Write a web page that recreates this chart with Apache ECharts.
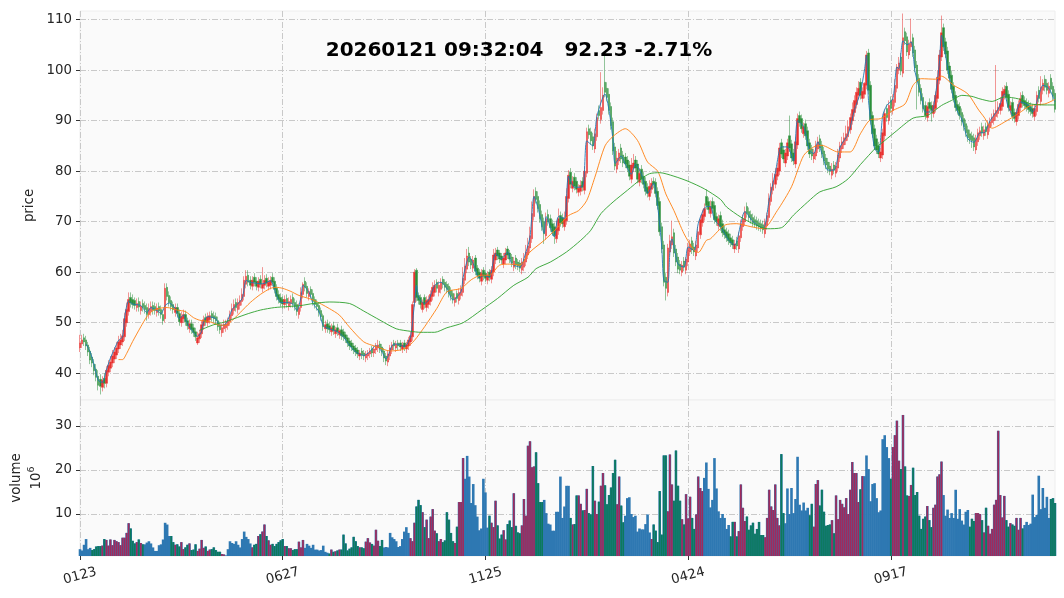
<!DOCTYPE html>
<html>
<head>
<meta charset="utf-8">
<script src="https://cdn.jsdelivr.net/npm/echarts@6/dist/echarts.min.js"></script>
<style>html,body{margin:0;padding:0;background:#fff}#main{width:1064px;height:598px}</style>
</head>
<body>
<div id="main"></div>
<script>
var titleText = '20260121 09:32:04   92.23 -2.71%';
var tickLabels = ['0123', '0627', '1125', '0424', '0917'];

var open = [
45.0,45.8,47.0,46.6,45.6,44.4,43.2,41.8,40.8,39.4,
38.8,37.2,39.0,38.0,40.2,41.0,42.0,42.8,43.6,44.8,
45.6,46.2,47.2,50.0,52.2,55.0,54.6,54.4,53.0,54.2,
52.4,53.8,53.4,53.0,51.6,52.2,53.4,53.2,52.0,53.2,
52.6,51.6,50.8,57.0,55.4,54.4,53.6,52.0,53.0,51.8,
50.0,50.8,51.6,50.4,48.8,49.8,49.0,48.2,46.0,46.8,
47.8,49.4,51.0,50.0,50.6,51.8,51.4,51.2,50.4,49.6,
48.0,48.8,49.0,49.4,50.2,51.4,52.4,54.0,52.6,53.4,
54.2,55.2,57.6,59.4,58.4,57.2,59.0,58.2,57.0,58.6,
56.8,57.4,58.8,57.2,57.4,59.0,58.2,56.8,55.6,55.0,
54.6,53.6,54.8,53.2,53.8,55.0,54.0,53.6,51.6,53.0,
55.6,58.2,57.2,55.2,56.6,55.8,54.6,53.8,53.4,52.4,
51.4,48.8,49.8,49.4,48.2,49.4,47.8,49.0,47.6,48.6,
48.2,47.6,47.0,46.4,46.0,45.4,45.0,44.6,43.4,44.4,
44.0,43.0,43.4,43.8,44.8,44.0,44.6,45.0,45.8,45.2,
44.4,43.4,42.2,43.4,44.6,46.0,45.0,46.0,46.0,44.8,
46.0,44.8,45.4,46.2,47.2,54.0,60.4,55.4,55.0,52.6,
55.0,53.0,53.6,54.2,55.2,56.0,58.0,56.0,56.6,58.6,
58.0,57.6,57.2,56.4,55.8,54.0,55.8,54.4,55.4,56.0,
58.4,60.6,63.8,62.6,60.8,62.8,60.8,60.0,58.2,60.4,
59.8,58.4,60.0,58.6,60.0,62.4,64.4,63.8,63.2,61.6,
62.4,64.6,63.8,63.0,61.0,62.8,62.0,61.8,60.4,61.0,
62.0,63.4,64.8,66.6,71.0,76.0,75.0,73.4,71.4,70.0,
67.2,71.4,70.6,69.6,69.0,66.6,68.2,71.2,70.8,69.0,
70.2,74.6,79.8,76.6,78.8,78.0,75.8,76.0,78.0,76.2,
79.6,88.4,87.8,86.8,84.4,86.8,92.0,90.2,92.0,97.6,
96.4,95.2,92.8,89.8,84.8,80.4,82.0,84.6,83.2,82.8,
82.2,81.2,78.4,80.6,82.2,81.4,77.8,80.4,79.0,78.0,
76.8,75.0,76.4,78.0,77.8,76.0,74.0,69.0,65.4,59.0,
56.0,64.0,65.4,67.8,64.6,63.0,61.6,60.0,62.2,60.4,
62.0,64.0,66.2,65.0,63.2,64.8,67.4,69.8,71.0,75.0,
74.0,71.6,74.0,73.2,71.0,69.2,71.2,69.6,68.4,68.0,
67.6,66.8,66.4,64.6,66.2,64.6,66.8,69.0,70.0,73.0,
72.0,71.4,70.8,70.4,70.2,69.8,69.6,69.4,67.6,69.2,
70.8,74.0,76.2,77.4,79.0,80.0,85.6,84.2,81.6,83.0,
87.0,85.4,83.6,81.4,85.2,91.0,90.4,87.4,89.4,88.0,
85.6,84.4,82.4,83.0,84.4,86.4,85.2,84.0,82.6,81.8,
81.0,79.2,81.2,79.6,80.6,82.6,84.4,85.2,86.0,86.8,
88.2,90.0,91.6,93.2,95.0,97.6,94.4,95.2,97.0,103.4,
97.0,91.0,88.4,86.4,85.0,82.6,83.2,87.0,92.4,90.0,
94.0,92.0,93.6,96.4,100.0,102.6,99.4,107.6,106.6,103.0,
104.6,106.4,104.0,101.0,98.4,96.4,94.6,93.0,90.6,93.6,
93.0,91.4,92.4,94.4,98.0,102.6,108.4,105.6,103.8,100.8,
99.0,96.8,95.0,93.2,92.8,91.6,90.4,89.4,88.2,87.4,
87.0,86.6,84.2,85.8,87.0,88.8,87.0,88.8,87.2,88.6,
89.6,90.0,90.8,91.4,92.0,92.8,95.0,96.8,95.2,92.0,
93.6,91.6,89.8,91.0,92.6,95.0,94.0,93.6,93.2,92.8,
92.4,90.8,91.8,96.0,93.8,96.0,98.2,97.4,95.4,98.4,
96.8,95.4];

var close = [
46.0,46.6,46.2,45.4,44.2,42.6,42.0,40.5,39.2,37.6,
37.4,38.6,38.0,40.6,41.6,42.2,43.4,44.2,45.0,46.2,
46.6,47.4,50.8,52.6,54.6,53.9,53.6,53.4,53.8,53.1,
53.3,53.0,52.6,51.6,52.8,53.2,52.5,52.4,52.9,52.3,
51.6,50.4,56.8,55.2,54.0,53.2,52.6,53.0,51.8,50.2,
51.2,51.6,50.2,49.4,49.8,48.6,48.0,47.2,47.0,47.8,
49.6,50.6,50.2,51.2,51.4,51.0,50.8,50.4,49.2,48.6,
49.0,49.6,49.8,50.4,51.6,52.8,53.6,53.0,54.0,54.4,
55.6,58.4,59.2,58.0,57.4,58.4,58.0,57.2,58.2,57.6,
57.6,58.4,57.8,58.0,58.4,58.0,56.6,55.2,54.6,54.0,
53.7,54.6,53.8,54.2,54.6,53.8,53.2,52.2,53.0,56.0,
57.6,57.0,55.8,56.2,55.6,54.2,53.6,53.2,52.0,51.2,
49.2,49.6,48.8,48.6,49.0,48.4,48.6,48.2,48.4,47.4,
47.2,46.8,46.0,45.4,45.2,44.6,44.2,43.8,44.0,43.6,
43.4,43.8,44.0,44.4,44.0,44.8,45.4,45.6,44.8,44.2,
43.0,42.4,43.8,45.0,45.6,45.4,45.8,45.4,45.2,45.6,
45.2,45.6,46.6,47.4,53.6,60.0,55.0,54.4,53.6,54.0,
53.6,54.4,54.6,55.6,57.0,57.4,56.8,57.4,58.0,57.6,
57.0,56.6,55.8,55.2,54.6,55.0,54.8,56.0,56.6,58.8,
61.2,63.2,62.0,61.4,62.4,60.2,59.4,58.8,59.8,59.2,
58.8,59.4,59.0,60.4,63.4,63.8,63.2,62.6,62.4,62.8,
63.8,63.4,62.6,61.8,62.2,61.4,61.2,60.8,62.0,62.6,
64.0,65.2,67.2,71.6,75.0,74.4,72.6,70.6,69.0,67.6,
70.6,70.0,68.8,68.0,67.2,68.8,70.6,69.8,69.6,70.6,
75.0,79.2,77.4,78.0,77.0,76.4,76.6,77.2,76.8,80.0,
87.8,87.2,86.0,85.0,87.4,90.6,91.0,92.6,95.0,95.6,
94.6,92.0,89.0,84.0,81.0,82.6,83.6,82.4,81.6,81.4,
80.6,79.0,81.2,81.6,80.6,78.4,79.6,78.4,77.4,76.0,
75.6,77.0,77.6,77.4,75.6,73.2,68.0,64.6,58.0,56.8,
64.8,66.2,67.0,63.8,62.0,60.6,60.4,61.4,61.0,62.6,
64.8,65.6,64.4,64.0,65.4,68.0,70.4,71.4,72.6,73.2,
72.4,73.0,72.6,70.4,70.0,70.6,69.0,67.8,67.4,66.8,
66.2,65.8,65.4,65.6,65.2,67.2,69.6,70.6,72.0,71.6,
70.8,70.4,69.8,69.6,69.2,69.0,68.8,68.4,69.8,71.2,
74.6,76.8,78.0,79.4,80.6,84.6,83.4,82.4,83.6,85.6,
84.6,82.6,82.0,85.8,90.4,89.6,88.4,88.8,87.0,85.0,
83.4,83.0,83.6,85.2,85.8,84.6,83.4,82.0,81.2,80.4,
80.0,80.4,80.2,81.0,83.2,85.0,85.8,86.6,87.4,88.8,
90.6,92.2,94.0,95.6,96.4,95.0,95.8,97.4,103.0,96.0,
90.0,87.4,85.0,84.2,83.4,83.8,87.6,91.4,90.6,93.0,
92.4,94.2,97.0,100.6,101.4,99.8,106.4,105.8,103.6,105.2,
105.6,103.4,100.4,97.8,95.6,94.0,92.4,91.0,92.8,92.4,
92.0,93.0,95.0,98.6,103.0,107.4,104.6,103.2,100.0,98.4,
96.2,94.4,92.6,92.0,91.0,89.8,88.8,87.6,86.6,86.2,
86.0,84.8,86.4,87.6,88.0,87.6,88.2,87.8,89.2,89.8,
90.6,91.4,92.0,92.6,93.4,95.8,96.2,94.6,92.6,93.0,
90.8,90.4,91.6,93.2,94.4,93.4,93.0,92.6,92.2,91.8,
91.4,92.4,95.0,94.4,96.6,97.4,96.6,96.0,96.8,96.2,
94.8,92.23];

var high = [
47.6,47.6,47.8,47.4,46.2,45.2,44.0,42.8,41.8,40.6,
39.8,39.4,40.0,41.4,42.6,43.4,44.6,45.2,46.2,47.4,
47.8,48.6,52.0,54.0,56.0,56.0,55.6,55.0,54.8,55.0,
54.2,54.6,54.2,53.8,53.8,54.2,54.2,54.0,53.8,54.0,
53.4,52.6,57.8,57.8,56.2,55.2,54.2,53.8,53.8,52.6,
52.2,52.6,52.4,51.0,50.6,50.6,49.8,49.0,48.2,48.6,
50.4,51.4,51.8,52.0,52.2,52.4,52.2,52.0,51.2,50.2,
49.8,50.6,50.6,51.0,52.4,53.8,54.6,54.8,54.8,55.4,
56.8,59.2,60.4,60.4,59.2,59.2,59.8,59.0,59.0,59.4,
61.0,59.4,59.6,59.0,59.2,59.8,59.0,57.6,56.4,55.8,
55.4,55.4,55.6,55.0,55.4,55.8,54.8,54.4,53.8,57.0,
58.0,59.0,58.0,56.8,57.2,56.6,55.2,54.6,54.0,53.0,
51.8,50.4,50.6,50.2,49.8,50.2,49.2,49.8,48.8,49.4,
48.8,48.2,47.6,47.0,46.6,46.0,45.6,45.2,44.6,45.0,
44.6,44.4,44.6,45.0,45.4,45.4,46.0,46.6,46.4,45.8,
45.0,44.0,44.4,45.6,46.2,46.6,46.4,46.6,46.6,46.2,
46.6,46.2,47.2,48.2,54.2,60.6,60.8,56.0,55.6,54.6,
55.6,55.2,55.4,56.4,58.0,58.4,58.6,58.2,58.8,59.2,
58.6,58.2,57.8,57.0,56.4,55.8,56.4,56.8,57.4,61.0,
62.8,64.6,65.0,63.2,63.2,63.4,61.4,60.6,60.6,61.0,
60.4,60.2,60.6,61.2,64.6,64.8,65.0,64.4,63.8,63.8,
64.8,65.2,64.4,63.6,63.0,63.4,62.6,62.4,62.8,63.8,
65.4,66.8,69.0,74.0,76.4,76.8,76.0,74.2,72.2,70.8,
71.8,72.4,71.4,70.4,69.8,70.2,72.6,72.0,71.6,72.0,
76.6,80.2,80.6,79.0,79.6,78.8,77.4,78.2,78.8,81.0,
88.6,89.2,88.6,87.6,88.4,91.4,93.0,99.6,96.6,103.0,
97.6,96.4,93.6,90.6,85.6,84.0,84.4,85.4,84.0,83.6,
83.0,82.0,82.6,83.4,83.0,82.2,80.6,81.2,79.8,78.8,
77.6,78.2,78.6,78.8,78.6,76.8,74.8,69.8,66.2,59.8,
65.6,67.4,70.2,68.6,65.4,63.8,62.4,62.2,63.0,63.0,
65.8,66.4,67.0,65.8,66.2,69.0,71.2,72.4,73.6,76.4,
74.8,74.2,74.8,74.0,71.8,71.4,72.0,70.4,69.2,68.8,
68.4,67.6,67.2,66.4,67.0,68.0,70.4,71.4,73.0,73.8,
72.8,72.2,71.6,71.2,71.0,70.6,70.4,70.2,70.6,71.8,
75.6,77.6,79.6,80.6,81.6,85.6,86.4,85.0,84.4,86.4,
91.0,86.2,84.4,86.8,91.4,91.8,91.2,89.6,90.2,88.8,
86.4,85.2,84.4,86.0,86.8,87.2,86.0,84.8,83.4,82.6,
81.8,81.6,82.0,81.8,84.4,85.8,86.8,87.6,89.0,90.0,
91.4,93.6,95.0,96.6,97.8,98.4,96.6,97.6,103.8,104.2,
97.8,91.8,89.2,87.2,85.8,84.6,88.4,92.2,93.2,94.0,
94.8,95.2,98.2,101.2,102.6,103.4,111.2,108.4,107.4,106.0,
110.2,107.2,104.8,101.8,99.2,97.2,95.4,93.8,93.6,94.4,
93.8,93.8,95.8,100.0,104.0,110.8,109.2,106.4,104.6,101.6,
99.8,97.6,95.8,94.0,93.6,92.4,91.2,90.2,89.0,88.2,
87.8,87.4,87.2,88.4,88.8,89.6,89.0,89.6,90.0,90.6,
91.4,92.2,101.0,93.8,94.6,96.6,97.0,97.6,96.0,93.8,
94.4,92.4,92.4,94.0,95.6,95.8,94.8,94.4,94.0,93.6,
93.2,93.2,95.8,96.8,98.8,98.2,99.0,98.2,97.6,99.2,
97.6,96.2];

var low = [
44.2,45.0,45.4,44.6,43.4,41.8,41.2,39.6,38.4,36.6,
35.8,36.4,37.0,37.2,39.4,40.2,41.2,42.0,42.8,44.0,
44.8,45.4,46.4,49.2,51.4,53.0,52.8,52.6,52.2,52.2,
51.6,52.2,51.8,50.4,50.8,51.4,51.6,51.6,51.2,51.4,
50.8,49.6,50.0,54.4,53.2,52.4,51.8,51.2,51.0,49.4,
49.2,50.0,49.4,48.6,48.0,47.8,47.2,46.4,45.6,46.0,
47.0,48.6,49.4,49.2,49.8,50.2,50.0,49.6,48.4,47.8,
47.2,48.0,48.2,48.6,49.4,50.6,51.6,52.2,51.8,52.6,
53.4,54.4,56.8,57.2,56.6,56.4,57.2,56.4,56.2,56.8,
56.0,56.6,57.0,56.4,56.6,57.2,55.8,54.4,53.8,53.2,
52.8,52.8,53.0,52.4,53.0,53.0,52.4,51.4,50.8,52.2,
54.8,56.2,55.0,54.4,54.8,53.4,52.8,52.4,51.2,50.4,
48.4,48.0,48.0,47.8,47.4,47.6,47.0,47.4,46.8,46.6,
46.4,46.0,45.2,44.6,44.4,43.8,43.4,43.0,42.6,42.8,
42.6,42.2,42.6,43.0,43.2,43.2,43.8,44.2,44.0,43.4,
42.2,41.6,41.4,42.6,43.8,44.6,44.2,44.6,44.4,44.0,
44.4,44.0,44.6,45.4,46.4,53.2,54.2,53.6,52.8,52.0,
52.8,52.2,52.8,53.4,54.4,55.2,56.0,55.2,55.8,56.8,
56.2,55.8,55.0,54.4,53.8,53.2,54.0,53.6,54.6,55.2,
57.6,59.8,61.2,60.6,60.0,59.4,58.6,58.0,57.4,58.4,
58.0,57.6,58.2,57.8,59.2,61.6,62.4,61.8,61.6,60.8,
61.6,62.6,61.8,61.0,60.2,60.6,60.4,60.0,59.6,60.2,
61.2,62.6,64.0,65.8,70.2,73.6,71.8,69.8,68.2,65.6,
66.4,69.2,68.0,67.2,65.6,65.8,67.4,69.0,68.8,68.2,
69.4,73.8,76.6,75.8,76.2,75.6,75.0,75.2,76.0,75.4,
78.8,86.4,85.2,84.2,83.6,86.0,90.2,89.4,91.2,94.6,
93.8,91.2,88.2,83.2,80.2,79.6,81.2,81.6,80.8,80.6,
79.8,78.2,77.6,79.8,79.8,77.6,77.0,77.6,76.6,75.2,
74.8,74.2,75.6,76.6,74.8,72.4,67.2,63.8,57.2,54.4,
55.2,63.2,64.6,63.0,61.2,59.8,59.6,59.2,60.2,59.6,
61.2,63.2,63.6,63.2,62.4,64.0,66.6,69.0,70.2,72.4,
71.6,70.8,71.8,69.6,69.2,68.4,68.2,67.0,66.6,66.0,
65.4,65.0,64.6,63.8,64.4,63.8,66.0,68.2,69.2,70.8,
70.0,69.6,69.0,68.8,68.4,68.2,68.0,67.6,66.8,68.4,
70.0,73.2,75.4,76.6,78.2,79.2,82.6,81.6,80.8,82.2,
83.8,81.8,81.2,80.6,84.4,88.8,87.6,86.6,86.2,84.2,
82.6,82.2,81.6,82.2,83.6,83.8,82.6,81.2,80.4,79.6,
79.2,78.4,79.4,78.8,79.8,81.8,83.6,84.4,85.2,86.0,
87.4,89.2,90.8,92.4,94.2,94.2,93.6,94.4,96.2,95.2,
89.2,86.6,84.2,83.4,82.6,81.8,82.4,86.2,89.8,89.2,
91.6,91.2,92.8,95.6,99.2,99.0,98.6,105.0,102.8,102.2,
103.8,102.6,99.6,92.2,94.8,93.2,91.6,90.2,89.8,91.6,
89.8,90.6,91.6,93.6,97.2,101.8,103.8,102.4,99.2,97.6,
95.4,93.6,91.8,91.2,90.2,89.0,88.0,86.8,85.8,85.4,
84.6,84.0,83.4,85.0,86.2,86.8,86.2,87.0,86.4,87.8,
88.8,89.2,90.0,90.6,91.2,92.0,94.2,93.8,91.8,91.2,
90.0,89.6,89.0,90.2,91.8,92.6,92.2,91.8,91.4,91.0,
90.6,90.0,91.0,93.6,93.0,95.2,95.8,95.2,94.6,95.4,
94.0,91.6];

var volume = [
2.0,1.7,3.0,4.3,2.0,2.3,1.8,2.0,2.6,2.7,
2.7,2.8,4.3,4.1,2.8,4.2,2.9,4.1,3.8,3.6,
2.9,4.6,4.6,5.7,7.9,6.7,3.9,3.3,3.6,4.2,
3.4,3.1,3.1,3.5,3.8,3.3,2.4,1.6,1.6,2.9,
3.1,4.2,8.0,7.6,5.0,5.0,3.6,3.0,3.1,2.6,
3.6,2.0,2.4,3.0,3.3,1.8,1.9,3.1,1.6,2.1,
4.1,2.3,2.6,1.6,1.9,2.0,2.4,1.8,1.4,1.4,
0.9,0.8,0.6,2.0,3.8,3.4,3.2,3.8,3.0,2.4,
4.3,6.0,4.8,4.3,3.3,2.4,3.0,3.2,5.0,5.4,
6.0,7.6,5.0,4.0,3.0,3.2,2.7,3.2,3.6,4.0,
4.3,2.7,2.7,2.2,2.2,1.8,2.0,2.0,3.7,2.4,
4.1,2.3,3.2,2.8,2.3,3.0,1.9,1.9,1.7,1.8,
2.8,1.4,1.2,1.0,1.9,1.4,1.5,1.7,1.9,1.9,
5.3,3.3,1.7,2.1,2.4,4.8,3.8,2.7,2.4,2.4,
2.2,3.7,4.5,3.5,3.2,2.8,6.4,3.9,2.7,4.1,
2.4,2.5,2.4,5.7,4.7,4.3,3.8,2.5,2.7,4.3,
6.0,7.0,5.7,4.5,3.8,8.0,11.7,13.2,12.0,10.4,
7.0,8.7,4.5,9.4,11.1,6.2,5.6,3.8,4.3,3.6,
4.0,10.4,8.7,5.7,3.8,3.4,7.1,12.7,12.7,22.7,
18.0,23.2,18.5,12.5,16.8,12.0,9.4,6.3,6.7,18.0,
14.9,6.9,9.6,8.0,7.0,13.0,7.4,4.4,5.3,6.3,
4.2,7.7,8.5,7.0,14.7,7.3,5.8,5.6,7.4,13.4,
9.6,25.5,26.5,20.6,20.8,24.0,17.0,12.7,12.7,13.2,
10.2,7.8,7.6,6.2,6.2,10.5,10.5,18.5,9.1,11.7,
16.4,16.4,9.1,7.6,7.7,14.2,14.2,12.3,10.8,10.9,
15.7,10.2,9.9,20.9,13,10,12.8,16.4,19.3,16.5,
12.2,14.3,16,19.3,22.3,12.2,18.5,11.9,8.1,9.6,
13.6,13.8,10,9.3,9.6,6,6.7,6.5,6.5,7.7,
9.9,5.8,4.3,7.6,6.2,3.6,15.2,5.3,23.3,23.3,
10.6,23.5,16.7,13,24.4,16.4,13,8.8,7.6,14.5,
9,13.9,9.1,6.6,9.9,18.5,15.9,15.2,18.2,21.7,
15.7,11.5,13.2,22.7,15.8,10.6,9.1,10,9.1,6.6,
7.5,4.9,8.2,8.2,4.9,6.1,16.7,11.4,8.4,9.4,
6.4,7.4,8,5.5,6.6,8.2,5.2,5.2,4.7,9.1,
15.5,11.7,10.9,16.7,9.1,7.4,23.6,10.2,7.9,15.8,
10,15.9,10.2,13.4,23,12.1,10.8,12.6,10.8,11.4,
9.7,12.3,7.1,16.8,17.7,11.9,15.5,10.5,7.3,7.5,
7.6,8.6,5.6,14.2,8.8,13.2,12.3,11.5,13.6,10,
15.5,21.8,19.3,19.3,12.7,15.6,18.6,18.6,23.3,20.2,
12.9,16.8,17,13.6,10.4,10.8,27,27.9,25.2,22.7,
18,25.2,27.9,31.2,22.1,20.2,32.5,20.8,14.2,14.1,
16.6,20.5,14.3,15,9.6,6.6,8.9,9.4,11.8,8.6,
7,11.4,12.1,18.5,19,21.9,14.3,9.6,11,9.1,
10.2,9.1,15.5,8.9,11.1,8.5,7.6,10.5,10.9,7.1,
8.9,8.4,10.2,10.2,10,8.6,5.8,11.4,7.3,5.5,
6.6,12.1,13.2,28.9,14.3,9.2,14.1,8.6,7.1,7.9,
7.6,7.3,9.1,6.4,9.1,6.7,7.5,8.2,7.5,7.8,
14.4,9.3,9.8,18.7,11.1,15.9,11.4,13.9,9.1,13.4,
13.6,12.5];

// bar index spans where the volume bars get the up/down colour on top of the blue
var colouredSpans = [[6,31],[45,71],[85,110],[123,149],[163,189],[202,228],[242,268],[282,307],[321,347],[360,386],[400,425],[439,465],[479,481]];

// moving average lines: [bar index, price]
var ma5 = [[3,45.8],[5,44.2],[7,41.6],[9,38.6],[11,38.2],[13,40.6],[15,43],[17,44.8],[19,46.5],[21,47.2],[22,51],[24,54.3],[26,53.7],[30,53.4],[33,52],[35,53],[38,52.4],[40,51.8],[42,53.4],[44,53.9],[47,52.8],[49,50.8],[51,51.5],[53,49.8],[55,48.6],[58,47.3],[60,48.3],[61,50.2],[63,51.2],[67,50.8],[69,49.4],[72,49.8],[75,52.6],[77,53.4],[80,54.8],[82,58.4],[84,58],[87,57.8],[90,57.7],[94,58.3],[97,55.4],[99,54],[102,54],[105,53.7],[107,52.4],[109,55],[110,57.4],[113,56],[115,53.8],[118,52.1],[120,49.4],[123,48.8],[127,48.2],[130,47.2],[133,45.5],[136,44.2],[140,43.5],[143,44.3],[146,45.5],[149,44.2],[151,42.8],[154,45.5],[156,45.8],[160,45.3],[163,47.2],[165,53.8],[166,57.4],[167,55],[170,53.8],[172,54.5],[175,57.4],[178,58],[181,56.8],[184,54.5],[188,56.2],[189,59],[192,63],[194,61.7],[197,58.8],[199,59.4],[202,59],[205,63.7],[208,62.7],[211,64],[213,61.7],[217,61],[220,64],[222,67],[224,75],[226,72.7],[229,67.7],[230,71],[234,67],[236,71],[239,70.6],[241,79],[244,76.8],[248,77],[250,86],[253,85],[255,90.8],[259,95.3],[261,92],[263,86],[264,81.5],[267,83],[269,81.4],[272,79.4],[274,81.4],[277,79.4],[280,75.6],[283,77.6],[285,73],[287,65],[288,58.4],[290,58],[291,64],[292,66.6],[295,61.6],[298,61],[300,65],[303,64.3],[305,69.6],[309,73],[311,73],[313,70.4],[316,69],[320,66.3],[323,65.3],[326,69.6],[328,72],[332,70],[337,68.6],[340,74.3],[343,79.6],[346,84.8],[349,84.8],[352,82],[354,90],[357,88.8],[360,84],[362,83.5],[364,85.8],[366,83.5],[369,80.2],[372,80.2],[375,84.8],[379,87.4],[382,92],[385,95.6],[387,100],[388,102.9],[389,94],[392,84.4],[394,83.7],[396,91],[398,93],[401,94.3],[403,100.6],[404,100.3],[406,105.8],[408,105],[410,105.6],[412,99.6],[415,95],[417,91.7],[420,91.7],[422,95],[424,101.6],[425,106.9],[427,102.9],[429,98.3],[431,94.3],[433,91.7],[435,90.3],[438,86.4],[441,85.7],[444,87.6],[446,87.6],[449,90],[453,92.3],[456,95.3],[458,92.6],[461,90.7],[464,93.7],[468,93],[470,91.7],[473,95],[475,97],[478,96.4],[481,93.7]];
var ma20 = [[19,42.7],[21,42.7],[23,43.9],[26,46.3],[30,49.2],[33,51.2],[36,52.4],[40,52.9],[43,53],[48,52.5],[52,52.2],[56,51],[59,50.5],[64,50.2],[69,49.5],[72,49.5],[76,50.8],[79,52],[84,54],[89,55.6],[94,56.8],[97,57],[100,56.8],[104,56.2],[108,55.4],[115,54.5],[123,52.8],[128,51.5],[133,49.1],[140,46.2],[146,45.3],[153,44.4],[158,44.6],[161,45],[165,46.5],[170,49.2],[176,52.8],[181,56.1],[188,56.8],[193,58.5],[198,59.4],[202,59.4],[207,61.4],[212,61.6],[217,61.4],[222,64],[229,66.3],[235,68.6],[241,71.2],[246,72.2],[250,74.2],[254,78.8],[259,85],[263,86.9],[269,88.4],[275,86.1],[280,81.8],[285,80],[289,75.5],[293,72.2],[298,67.6],[303,64.3],[305,63.9],[309,66.3],[311,66.6],[318,69.3],[324,69.6],[331,69],[337,68.6],[344,72.2],[351,76.9],[357,83.1],[362,84.8],[366,85.1],[374,83.8],[380,83.8],[385,87.4],[390,90.2],[395,90.4],[401,92],[407,93.3],[411,97],[415,98.3],[422,98.2],[425,98.8],[431,97],[438,95.3],[443,92.3],[446,90.7],[450,88.5],[456,89.7],[463,91.4],[469,93],[476,93.3],[481,94.2]];
var ma60 = [[59,48.5],[66,49.6],[71,50.1],[76,50.8],[83,51.8],[89,52.5],[96,53],[103,53.2],[109,53.4],[115,53.8],[123,54.1],[133,53.8],[140,52.3],[148,50.5],[156,48.8],[163,48.3],[168,48.1],[175,48.1],[181,49],[189,50],[198,52.5],[206,54.8],[214,57.4],[221,59],[225,60.7],[232,62],[240,64],[247,66.3],[252,68.3],[257,71.6],[263,73.9],[270,76.2],[277,78.5],[281,79.5],[286,79.7],[293,79],[300,78],[308,76.5],[316,74.4],[319,72.9],[326,70.9],[332,69.6],[339,68.6],[346,68.8],[352,71.3],[359,73.9],[365,75.9],[373,76.9],[379,78.5],[385,81.3],[393,84.8],[395,85.4],[402,87.7],[411,90.5],[418,91],[425,93],[430,94],[435,95],[440,94.8],[444,94.3],[450,93.8],[456,94.7],[463,94.3],[469,93.3],[476,93.1],[481,93.1]];

var priceTicks = [40, 50, 60, 70, 80, 90, 100, 110];
var volumeTicks = [10, 20, 30];

var categories = close.map(function (c, i) { return i % 100 === 0 ? tickLabels[i / 100] : String(i); });
var candles = close.map(function (c, i) { return [open[i], c, low[i], high[i]]; });

function isColoured(i) {
    return colouredSpans.some(function (s) { return i >= s[0] && i <= s[1]; });
}
var volUp = volume.map(function (v, i) { return isColoured(i) && close[i] >= open[i] ? v : null; });
var volDown = volume.map(function (v, i) { return isColoured(i) && close[i] < open[i] ? v : null; });

var textColor = '#262626';
var gridLine = { show: true, lineStyle: { color: '#c9c9c9', width: 1, type: [6, 2, 1, 2] } };
var xGridLine = { show: true, interval: 99, lineStyle: gridLine.lineStyle };

function lineSeries(data, color) {
    return {
        type: 'line', data: data, xAxisIndex: 0, yAxisIndex: 0, showSymbol: false, smooth: 0.25,
        lineStyle: { color: color, width: 0.9 }, z: 5, silent: true
    };
}

var myChart = echarts.init(document.getElementById('main'), null, { renderer: 'canvas' });
myChart.setOption({
    animation: false,
    backgroundColor: '#ffffff',
    textStyle: { fontFamily: 'DejaVu Sans' },
    title: {
        text: titleText, left: 514, top: 36, textAlign: 'center',
        textStyle: { fontFamily: 'DejaVu Sans', fontWeight: 'bold', fontSize: 20, color: '#000' }
    },
    grid: [
        { left: 80, right: 9, top: 11, height: 389, outerBoundsMode: 'none', show: true, backgroundColor: '#fafafa', borderColor: '#eeeeee', borderWidth: 1 },
        { left: 80, right: 9, top: 400, height: 156, outerBoundsMode: 'none', show: true, backgroundColor: '#fafafa', borderColor: '#eeeeee', borderWidth: 1 }
    ],
    xAxis: [
        { type: 'category', gridIndex: 0, data: categories, boundaryGap: false, axisLine: { show: false }, axisTick: { show: false }, axisLabel: { show: false }, splitLine: xGridLine },
        {
            type: 'category', gridIndex: 1, data: categories, boundaryGap: false, axisLine: { show: false },
            axisTick: { interval: 99, length: 4, lineStyle: { color: '#333' } },
            axisLabel: { interval: 99, rotate: 15, align: 'center', verticalAlign: 'middle', margin: 20, fontSize: 13.33, color: textColor, hideOverlap: false },
            splitLine: xGridLine
        },
        { type: 'category', gridIndex: 1, data: categories, boundaryGap: false, show: false }
    ],
    yAxis: [
        {
            type: 'value', gridIndex: 0, min: 34.7, max: 111.7, name: 'price', nameLocation: 'middle', nameGap: 41,
            nameTextStyle: { fontSize: 13.33, color: textColor },
            axisLine: { show: false },
            axisTick: { show: true, length: 4, customValues: priceTicks, lineStyle: { color: '#333' } },
            axisLabel: { customValues: priceTicks, fontSize: 13.33, color: textColor, margin: 8 },
            splitLine: gridLine
        },
        {
            type: 'value', gridIndex: 1, min: 0.45, max: 35.9, name: '{v|volume}\n{v|10}{s|6}', nameLocation: 'middle', nameGap: 33,
            nameTextStyle: {
                color: textColor,
                rich: {
                    v: { fontSize: 13.33, color: textColor, lineHeight: 20, fontFamily: 'DejaVu Sans' },
                    s: { fontSize: 9.5, color: textColor, lineHeight: 20, verticalAlign: 'top', fontFamily: 'DejaVu Sans' }
                }
            },
            axisLine: { show: false },
            axisTick: { show: true, length: 4, customValues: volumeTicks, lineStyle: { color: '#333' } },
            axisLabel: { customValues: volumeTicks, fontSize: 13.33, color: textColor, margin: 8 },
            splitLine: gridLine
        }
    ],
    series: [
        {
            type: 'candlestick', data: candles, xAxisIndex: 0, yAxisIndex: 0, barWidth: 2, silent: true,
            itemStyle: { color: '#e8312f', color0: '#2b8f3a', borderColor: '#e8312f', borderColor0: '#2b8f3a', borderWidth: 0.5 },
            z: 3
        },
        lineSeries(ma5, '#1f77b4'),
        lineSeries(ma20, '#ff7f0e'),
        lineSeries(ma60, '#2ca02c'),
        { type: 'bar', data: volume, xAxisIndex: 1, yAxisIndex: 1, barWidth: 2.6, itemStyle: { color: '#2e78b2' }, z: 3, silent: true },
        { type: 'bar', data: volUp, xAxisIndex: 2, yAxisIndex: 1, barWidth: 1.7, barGap: '-100%', itemStyle: { color: '#a02a5c' }, z: 4, silent: true },
        { type: 'bar', data: volDown, xAxisIndex: 2, yAxisIndex: 1, barWidth: 1.7, barGap: '-100%', itemStyle: { color: '#0c7a5c' }, z: 4, silent: true }
    ]
});
</script>
</body>
</html>
